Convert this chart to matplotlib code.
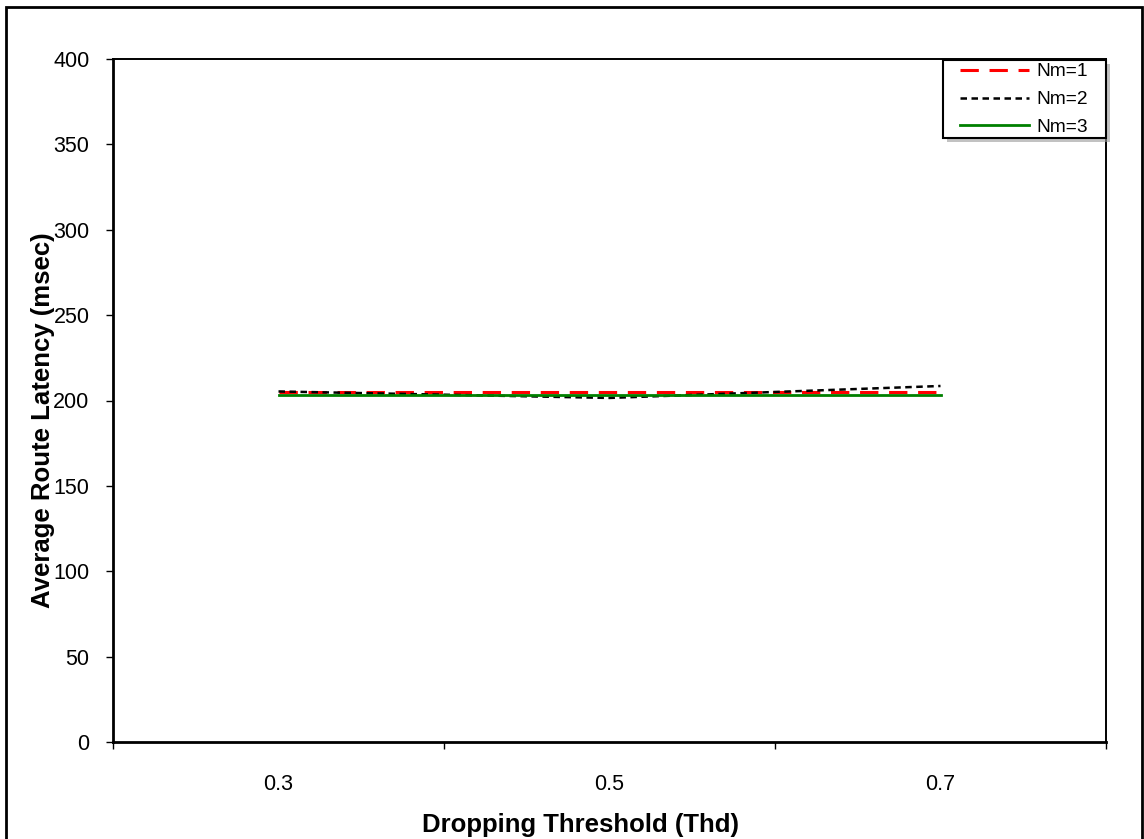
import matplotlib.pyplot as plt
from matplotlib.patches import Rectangle
from matplotlib.ticker import FixedLocator, NullFormatter

plt.rcParams['font.family'] = ['Liberation Sans', 'DejaVu Sans']

thresholds = ["0.3", "0.5", "0.7"]
nm1 = [205, 205, 205]
nm2 = [205.3, 201.5, 208.5]
nm3 = [203, 203, 203]

W, H = 1144, 839
fig = plt.figure(figsize=(W / 100, H / 100), dpi=100)
ax = fig.add_axes([113/W, 1-742/H, (1106-113)/W, (742-59)/H])

x = list(range(len(thresholds)))
ax.plot(x, nm1, color="#ff0000", lw=2.2, dashes=(6, 3.5), label="Nm=1")
ax.plot(x, nm2, color="black", lw=1.8, dashes=(2.6, 1.8), label="Nm=2")
ax.plot(x, nm3, color="#008000", lw=2.0, label="Nm=3")

ax.set_xlim(-0.5, 2.5)
ax.set_ylim(0, 400)
ax.set_yticks(range(0, 401, 50))
ax.xaxis.set_major_locator(FixedLocator([-0.5, 0.5, 1.5, 2.5]))
ax.xaxis.set_major_formatter(NullFormatter())
ax.xaxis.set_minor_locator(FixedLocator(x))
ax.set_xticklabels(thresholds, minor=True)
ax.tick_params(axis="x", which="minor", length=0, pad=23, labelsize=15.5)
ax.tick_params(axis="x", which="major", length=5, width=1, direction="out")
ax.tick_params(axis="y", length=5, width=1, direction="out", labelsize=15.5, pad=12)

for s in ["top", "right"]:
    ax.spines[s].set_linewidth(1.4)
for s in ["left", "bottom"]:
    ax.spines[s].set_linewidth(2)

ax.set_xlabel("Dropping Threshold (Thd)", fontsize=18.5, fontweight="bold")
ax.set_ylabel("Average Route Latency (msec)", fontsize=18.5, fontweight="bold")
ax.xaxis.set_label_coords((581 - 113) / 993, (742 - 813) / 683)
ax.yaxis.set_label_coords((55 - 113) / 993, (742 - 420) / 683)

# legend box with shadow, drawn by hand to get Excel-like padding
px = lambda v: v / 993
py = lambda v: v / 683
ax.add_patch(Rectangle((px(943-113+4), py(742-138-4)), px(163), py(78),
                       transform=ax.transAxes, facecolor="#9a9a9a", edgecolor="none",
                       alpha=0.6, zorder=4.4, clip_on=False))
ax.add_patch(Rectangle((px(943-113), py(742-138)), px(163), py(78),
                       transform=ax.transAxes, facecolor="white", edgecolor="black",
                       linewidth=1.5, zorder=4.5, clip_on=False))
leg = ax.legend(loc="upper left", bbox_to_anchor=(px(960-113), py(742-63)), fontsize=13.75,
                frameon=False, borderaxespad=0, borderpad=0,
                handlelength=3.6, handletextpad=0.4, labelspacing=0.55)
leg.set_zorder(5)

fig.patches.append(Rectangle((6/W, -0.01), (1142-6)/W, 1.01-7/H,
                             transform=fig.transFigure, fill=False,
                             edgecolor="black", linewidth=2))

fig.savefig("out.png", dpi=100)
